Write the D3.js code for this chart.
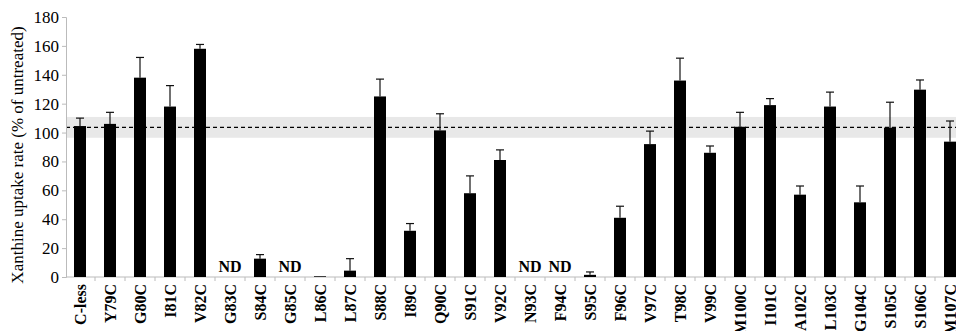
<!DOCTYPE html>
<html>
  <head>
    <script src="https://d3js.org/d3.v7.min.js"></script>
    <style>
      body { margin: 0; background: #fff; }
      #chart svg text { font-family: "Liberation Serif", "Times New Roman", serif !important; }
      #chart .ytick text { font-size: 17px !important; }
      #chart .xlabel, #chart .nd { font-size: 16px !important; font-weight: bold; }
      #chart .ytitle { font-size: 17px !important; }
    </style>
  </head>
  <body>
    <div id="chart"></div>
    <script>
      // Mutants on the x axis
      const mutants = ['C-less', 'Y79C', 'G80C', 'I81C', 'V82C', 'G83C', 'S84C', 'G85C', 'L86C', 'L87C',
        'S88C', 'I89C', 'Q90C', 'S91C', 'V92C', 'N93C', 'F94C', 'S95C', 'F96C', 'V97C',
        'T98C', 'V99C', 'M100C', 'I101C', 'A102C', 'L103C', 'G104C', 'S105C', 'S106C', 'M107C'];
      // uptake rate, % of untreated (null = not determined)
      const uptake = [104.5, 106, 138, 118, 158, null, 12.7, null, 0.5, 4.4,
        125, 32, 101.5, 58, 81, null, null, 1.5, 41, 92,
        136, 86, 104, 119, 57, 118, 51.7, 103.4, 129.7, 93.7];
      // upper error bar (SD)
      const sd = [5.5, 8, 14, 14.5, 3, null, 2.8, null, 0, 8.3,
        12, 5, 11.5, 12, 7, null, null, 2, 8, 9,
        15.5, 4.7, 10, 4.5, 6, 10, 11.3, 17.6, 6.7, 14.3];
      const yTicks = [0, 20, 40, 60, 80, 100, 120, 140, 160, 180];
      const controlMean = 103.6;
      const controlRange = [96.4, 110.8];

      const width = 956, height = 331;
      const margin = { top: 17, right: -9, bottom: 54, left: 65 };

      const svg = d3.select('#chart').append('svg')
        .attr('width', width)
        .attr('height', height);

      const x = d3.scaleBand()
        .domain(mutants)
        .range([margin.left, width - margin.right])
        .paddingInner(0.6)
        .paddingOuter(0.3);

      const y = d3.scaleLinear()
        .domain([0, 180])
        .range([height - margin.bottom, margin.top]);

      // control band and dashed mean line
      svg.append('rect')
        .attr('x', margin.left + 1)
        .attr('y', y(controlRange[1]))
        .attr('width', width - margin.left)
        .attr('height', y(controlRange[0]) - y(controlRange[1]))
        .attr('fill', '#e8e8e8');

      svg.append('line')
        .attr('x1', margin.left + 1)
        .attr('x2', width)
        .attr('y1', y(controlMean))
        .attr('y2', y(controlMean))
        .attr('stroke', '#000')
        .attr('stroke-width', 1.2)
        .attr('stroke-dasharray', '4,3');

      // y axis
      const yAxis = svg.append('g')
        .attr('class', 'ytick')
        .attr('transform', 'translate(' + (margin.left + 1) + ',0)')
        .call(d3.axisLeft(y).tickValues(yTicks).tickSize(4).tickPadding(3));
      yAxis.selectAll('line, path').attr('stroke', '#bbb');
      yAxis.selectAll('text').attr('fill', '#000');

      // x axis line and boundary ticks
      const x0 = y(0);
      svg.append('line')
        .attr('x1', margin.left + 1).attr('x2', width)
        .attr('y1', x0).attr('y2', x0)
        .attr('stroke', '#bbb');
      svg.selectAll('.xtick')
        .data(mutants)
        .enter().append('line')
        .attr('x1', d => x(d) + x.bandwidth() / 2 + x.step() / 2)
        .attr('x2', d => x(d) + x.bandwidth() / 2 + x.step() / 2)
        .attr('y1', x0).attr('y2', x0 + 4)
        .attr('stroke', '#bbb');

      // bars
      const data = mutants.map((m, i) => ({ m, v: uptake[i], e: sd[i] }));
      svg.selectAll('.bar')
        .data(data.filter(d => d.v !== null))
        .enter().append('rect')
        .attr('x', d => x(d.m))
        .attr('y', d => y(d.v))
        .attr('width', x.bandwidth())
        .attr('height', d => y(0) - y(d.v))
        .attr('fill', '#000');

      // error bars (upper only)
      const errs = svg.append('g').attr('stroke', '#111').attr('stroke-width', 1.2);
      data.filter(d => d.v !== null && d.e > 0).forEach(d => {
        const cx = x(d.m) + x.bandwidth() / 2;
        errs.append('line').attr('x1', cx).attr('x2', cx)
          .attr('y1', y(d.v)).attr('y2', y(d.v + d.e));
        errs.append('line').attr('x1', cx - 4).attr('x2', cx + 4)
          .attr('y1', y(d.v + d.e)).attr('y2', y(d.v + d.e));
      });

      // ND labels
      svg.selectAll('.nd')
        .data(data.filter(d => d.v === null))
        .enter().append('text')
        .attr('class', 'nd')
        .attr('x', d => x(d.m) + x.bandwidth() / 2)
        .attr('y', y(0) - 5)
        .attr('text-anchor', 'middle')
        .text('ND');

      // category labels
      svg.selectAll('.xlabel')
        .data(mutants)
        .enter().append('text')
        .attr('class', 'xlabel')
        .attr('transform', d => 'translate(' + (x(d) + x.bandwidth() / 2 + 5.5) + ',' + (y(0) + 7) + ') rotate(-90)')
        .attr('text-anchor', 'end')
        .text(d => d);

      // y axis title
      svg.append('text')
        .attr('class', 'ytitle')
        .attr('transform', 'translate(23,' + ((margin.top + y(0)) / 2 + 8) + ') rotate(-90)')
        .attr('text-anchor', 'middle')
        .text('Xanthine uptake rate (% of untreated)');
    </script>
  </body>
</html>
